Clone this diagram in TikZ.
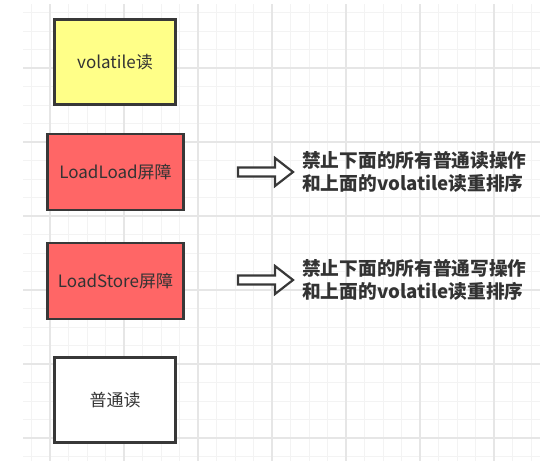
\documentclass[tikz,border=0pt]{standalone}
\usepackage{fontspec}
\setmainfont{Noto Sans CJK SC}
\usetikzlibrary{calc}

\definecolor{boxline}{HTML}{383838}
\definecolor{textgray}{HTML}{333333}
\definecolor{readyellow}{HTML}{FFFF88}
\definecolor{barrierred}{HTML}{FF6666}
\definecolor{minorgrid}{HTML}{F3F3F3}
\definecolor{majorgrid}{HTML}{E6E6E6}

\tikzset{
  box/.style={draw=boxline, line width=2.5pt, minimum width=121pt, minimum height=85pt,
    inner sep=0pt, text=textgray, font=\fontsize{17}{20}\selectfont},
  barrier/.style={box, fill=barrierred, minimum width=136pt, minimum height=76pt},
  note/.style={anchor=west, align=left, inner sep=0pt, text=textgray,
    font=\fontsize{18.7}{22.7}\selectfont\bfseries},
  hollow/.style={draw=boxline, line width=2.2pt, fill=white, line join=miter},
  minorline/.style={draw=minorgrid, line width=0.9pt},
  majorline/.style={draw=majorgrid, line width=1.1pt}
}

\begin{document}
\begin{tikzpicture}[x=1pt, y=-1pt]

	\useasboundingbox[fill=white] (0,0) rectangle (540,461);

	% grid
	\foreach \k in {0,...,27} \draw[minorline] ({31.5+18.5*\k},4) -- ({31.5+18.5*\k},461);
	\foreach \k in {0,...,24} \draw[minorline] (23,{12.5+18.5*\k}) -- (540,{12.5+18.5*\k});
	\foreach \k in {0,...,6} \draw[majorline] ({50+74*\k},4) -- ({50+74*\k},461);
	\foreach \k in {0,...,5} \draw[majorline] (23,{68+74*\k}) -- (540,{68+74*\k});

	% boxes
	\node[box, fill=readyellow] (vread) at (115,62) {volatile读};
	\node[barrier] (llbar) at (115.5,172) {LoadLoad屏障};
	\node[barrier] (lsbar) at (115.5,281) {LoadStore屏障};
	\node[box, fill=white] (nread) at (115,400) {普通读};

	% hollow arrows
	\coordinate (a1) at (238,172);
	\coordinate (a2) at (238,280);
	\foreach \a in {a1,a2}
		\draw[hollow] (\a) ++(0,-4.5) -- ++(37,0) -- ++(0,-9.5) -- ++(18,14)
			-- ++(-18,14) -- ++(0,-9.5) -- ++(-37,0) -- cycle;

	% notes
	\node[note] (llnote) at (302,172) {禁止下面的所有普通读操作\\和上面的volatile读重排序};
	\node[note] (lsnote) at (302,280) {禁止下面的所有普通写操作\\和上面的volatile读重排序};

\end{tikzpicture}
\end{document}
